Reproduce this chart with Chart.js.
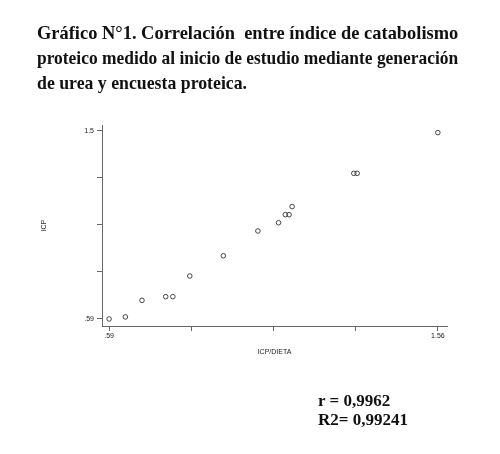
<!DOCTYPE html>
<html>
<head>
<meta charset="utf-8">
<script src="https://cdn.jsdelivr.net/npm/chart.js@4"></script>
<style>
  html, body { margin: 0; padding: 0; background: #fff; }
  #wrap { position: relative; width: 500px; height: 454px; overflow: hidden; }
  canvas { position: absolute; left: 0; top: 0; }
  .titulo { position: absolute; left: 37px; font: bold 19px "Liberation Serif", "Times New Roman", serif;
            line-height: 25px; color: #111; white-space: nowrap; transform-origin: 0 0; }
  .stats { position: absolute; left: 318px; top: 391px; font: bold 17px "Liberation Serif", "Times New Roman", serif;
           line-height: 19px; color: #111; white-space: nowrap; }
</style>
</head>
<body>
<div id="wrap">
  <canvas id="grafico" width="500" height="454"></canvas>
  <div class="titulo" style="top:20px; transform:scaleX(0.97)">Gráfico N°1. Correlación&nbsp; entre índice de catabolismo</div>
  <div class="titulo" style="top:45px; transform:scaleX(0.917)">proteico medido al inicio de estudio mediante generación</div>
  <div class="titulo" style="top:70px; transform:scaleX(0.935)">de urea y encuesta proteica.</div>
  <div class="stats">r = 0,9962<br>R2= 0,99241</div>
</div>
<script>
// ICP/DIETA (x) vs ICP (y)
const icpDieta = [0.59, 0.638, 0.687, 0.757, 0.778, 0.828, 0.927, 1.029, 1.090, 1.110, 1.121, 1.130, 1.312, 1.322, 1.56];
const icp      = [0.59, 0.600, 0.680, 0.698, 0.698, 0.798, 0.896, 1.016, 1.056, 1.095, 1.095, 1.134, 1.295, 1.295, 1.492];

// Marcas de los ejes (solo los extremos llevan etiqueta)
const xTicks = [0.59, 0.8325, 1.075, 1.3175, 1.56];
const xTickLabels = ['.59', '', '', '', '1.56'];
const yTicks = [0.59, 0.8175, 1.045, 1.2725, 1.5];
const yTickLabels = ['.59', '', '', '', '1.5'];

const puntos = icpDieta.map((x, i) => ({ x: x, y: icp[i] }));

const fuenteEje = { family: 'Liberation Sans, Arial, sans-serif', size: 7 };

new Chart(document.getElementById('grafico'), {
    type: 'scatter',
    data: {
        datasets: [{
            data: puntos,
            pointStyle: 'circle',
            pointRadius: 2.3,
            pointBorderWidth: 0.9,
            pointBorderColor: '#333',
            pointBackgroundColor: 'rgba(0,0,0,0)'
        }]
    },
    options: {
        responsive: false,
        animation: false,
        layout: { padding: { left: 40, right: 53, top: 125, bottom: 98 } },
        plugins: { legend: { display: false }, tooltip: { enabled: false } },
        scales: {
            x: {
                type: 'linear',
                min: 0.569,
                max: 1.587,
                afterBuildTicks: s => { s.ticks = xTicks.map(v => ({ value: v })); },
                afterFit: s => { s.height = 30; },
                ticks: { callback: (v, i) => xTickLabels[i], font: fuenteEje, color: '#222', padding: 1, maxRotation: 0, autoSkip: false },
                grid: { drawOnChartArea: false, drawTicks: true, tickLength: 5, color: '#666' },
                border: { display: true, color: '#666', width: 1 },
                title: { display: true, text: 'ICP/DIETA', font: fuenteEje, color: '#222', padding: { top: 3, bottom: 0 } }
            },
            y: {
                type: 'linear',
                min: 0.556,
                max: 1.529,
                afterBuildTicks: s => { s.ticks = yTicks.map(v => ({ value: v })); },
                afterFit: s => { s.width = 62; },
                ticks: { callback: (v, i) => yTickLabels[i], font: fuenteEje, color: '#222', padding: 3, autoSkip: false },
                grid: { drawOnChartArea: false, drawTicks: true, tickLength: 5, color: '#666' },
                border: { display: true, color: '#666', width: 1 },
                title: { display: true, text: 'ICP', font: fuenteEje, color: '#222', padding: 0 }
            }
        }
    }
});
</script>
</body>
</html>
